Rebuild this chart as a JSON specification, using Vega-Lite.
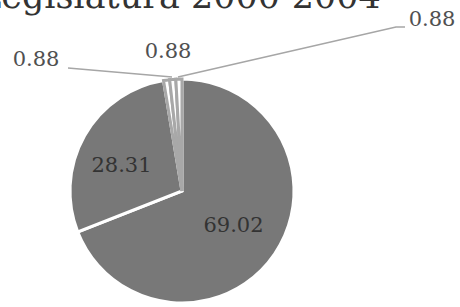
{
  "$schema": "https://vega.github.io/schema/vega-lite/v6.json",
  "width": 364,
  "height": 224,
  "autosize": "none",
  "padding": {"left": 0, "top": 79, "right": 96, "bottom": 4},
  "background": "white",
  "config": {"view": {"stroke": null}},
  "title": {
    "text": "Legislatura 2000-2004",
    "font": "DejaVu Serif",
    "fontSize": 35,
    "fontWeight": "normal",
    "color": "#333333",
    "anchor": "start",
    "frame": "group",
    "baseline": "alphabetic",
    "dx": -22,
    "dy": 34,
    "offset": 0
  },
  "datasets": {
    "slices": [
      {"party": "A", "value": 69.02, "idx": 1},
      {"party": "B", "value": 28.31, "idx": 2},
      {"party": "C", "value": 0.88, "idx": 3},
      {"party": "D", "value": 0.88, "idx": 4},
      {"party": "E", "value": 0.88, "idx": 5}
    ],
    "lines": [
      {"line": "left", "pt": 1, "x": -114, "y": 123},
      {"line": "left", "pt": 2, "x": -10, "y": 114},
      {"line": "right", "pt": 1, "x": 223, "y": 164},
      {"line": "right", "pt": 2, "x": 214, "y": 164},
      {"line": "right", "pt": 3, "x": -4, "y": 114}
    ],
    "labels": [
      {"label": "69.02", "x": 51.5, "y": -35, "kind": "inside"},
      {"label": "28.31", "x": -60.5, "y": 25, "kind": "inside"},
      {"label": "0.88", "x": -146, "y": 131.5, "kind": "outside"},
      {"label": "0.88", "x": -14, "y": 139, "kind": "outside"},
      {"label": "0.88", "x": 250, "y": 171.5, "kind": "outside"}
    ]
  },
  "resolve": {"scale": {"color": "independent", "stroke": "independent"}},
  "layer": [
    {
      "data": {"name": "slices"},
      "mark": {"type": "arc"},
      "encoding": {
        "theta": {"field": "value", "type": "quantitative", "stack": true},
        "order": {"field": "idx", "type": "quantitative"},
        "color": {
          "field": "party", "type": "nominal", "legend": null,
          "scale": {"domain": ["A", "B", "C", "D", "E"], "range": ["#787878", "#787878", "#ffffff", "#ffffff", "#ffffff"]}
        },
        "stroke": {
          "field": "party", "type": "nominal", "legend": null,
          "scale": {"domain": ["A", "B", "C", "D", "E"], "range": ["#ffffff", "#ffffff", "#a8a8a8", "#a8a8a8", "#a8a8a8"]}
        },
        "strokeWidth": {
          "field": "party", "type": "nominal", "legend": null,
          "scale": {"domain": ["A", "B", "C", "D", "E"], "range": [3, 3, 1, 1, 1]}
        }
      }
    },
    {
      "data": {"name": "lines"},
      "mark": {"type": "line", "color": "#a6a6a6", "strokeWidth": 1.5},
      "encoding": {
        "x": {"field": "x", "type": "quantitative", "axis": null, "scale": {"domain": [-182, 182], "nice": false, "zero": false}},
        "y": {"field": "y", "type": "quantitative", "axis": null, "scale": {"domain": [-112, 112], "nice": false, "zero": false}},
        "detail": {"field": "line"},
        "order": {"field": "pt", "type": "quantitative"}
      }
    },
    {
      "data": {"name": "labels"},
      "mark": {"type": "text", "font": "DejaVu Serif", "fontSize": 21, "baseline": "middle", "align": "center"},
      "encoding": {
        "x": {"field": "x", "type": "quantitative", "axis": null, "scale": {"domain": [-182, 182], "nice": false, "zero": false}},
        "y": {"field": "y", "type": "quantitative", "axis": null, "scale": {"domain": [-112, 112], "nice": false, "zero": false}},
        "text": {"field": "label"},
        "color": {
          "field": "kind", "type": "nominal", "legend": null,
          "scale": {"domain": ["inside", "outside"], "range": ["#333333", "#505050"]}
        }
      }
    }
  ]
}
